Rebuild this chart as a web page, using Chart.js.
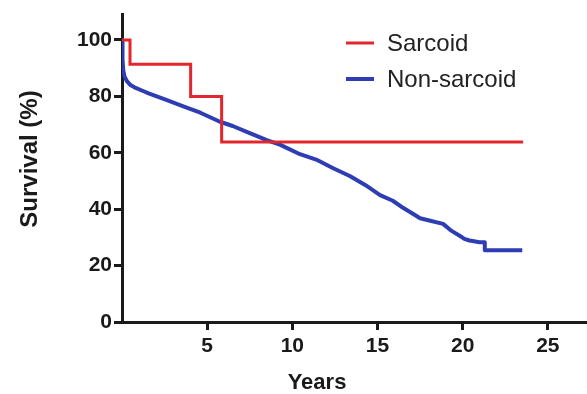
<!DOCTYPE html>
<html>
<head>
<meta charset="utf-8">
<script src="https://cdn.jsdelivr.net/npm/chart.js@4.4.1/dist/chart.umd.min.js"></script>
<style>
  html, body { margin: 0; padding: 0; background: #fff; }
  #wrap { width: 587px; height: 394px; }
</style>
</head>
<body>
<div id="wrap"><canvas id="kmChart" width="587" height="394"></canvas></div>
<script>
/* Kaplan-Meier survival: sarcoid vs non-sarcoid */

const xTicks = [5, 10, 15, 20, 25];
const yTicks = [0, 20, 40, 60, 80, 100];

const sarcoidYears = [0, 0.47, 4.03, 5.85, 23.55];
const sarcoidSurv  = [100, 91.4, 80, 63.8, 63.8];

const nonSarcoidYears = [0, 0.03, 0.08, 0.15, 0.3, 0.5, 0.8, 1.2, 1.6, 2.6, 3.6, 4.6, 5.75, 6.5, 7.5, 8.5, 9.3,
  10.45, 11.4, 12.4, 13.4, 14.3, 15.15, 15.9, 16.5, 17.1, 17.5, 18.1, 18.85, 19.3, 19.85,
  20.1, 20.4, 21.0, 21.3, 21.3, 23.5];
const nonSarcoidSurv = [100, 93, 89, 87, 85.3, 84, 83, 82, 81, 78.8, 76.5, 74.2, 71, 69.5, 67, 64.5, 62.8,
  59.5, 57.6, 54.5, 51.7, 48.5, 45, 43, 40.5, 38.3, 36.8, 35.9, 34.8, 32.5, 30.5,
  29.5, 28.9, 28.3, 28.3, 25.4, 25.4];

const seriesLabels = ['Sarcoid', 'Non-sarcoid'];
const RED = '#e3262b';
const BLUE = '#2e3db3';
const INK = '#1a1a1a';

const toPoints = (xs, ys) => xs.map((x, i) => ({ x, y: ys[i] }));

// legend + axis titles drawn by hand so they sit where the original has them
const overlay = {
  id: 'overlay',
  afterDraw(chart) {
    const { ctx } = chart;
    ctx.save();
    // legend
    const lx = 346, ly = [43, 79];
    chart.data.datasets.forEach((ds, i) => {
      ctx.strokeStyle = ds.borderColor;
      ctx.lineWidth = ds.borderWidth;
      ctx.beginPath();
      ctx.moveTo(lx, ly[i]);
      ctx.lineTo(lx + 28, ly[i]);
      ctx.stroke();
      ctx.fillStyle = '#222';
      ctx.font = '24px "Liberation Sans", Arial, sans-serif';
      ctx.textBaseline = 'middle';
      ctx.textAlign = 'left';
      ctx.fillText(ds.label, lx + 41, ly[i] + 1);
    });
    // axis titles
    ctx.fillStyle = INK;
    ctx.textAlign = 'center';
    ctx.textBaseline = 'middle';
    ctx.font = 'bold 22px "Liberation Sans", Arial, sans-serif';
    ctx.fillText('Years', 317, 383);
    ctx.font = 'bold 24px "Liberation Sans", Arial, sans-serif';
    ctx.translate(30, 159);
    ctx.rotate(-Math.PI / 2);
    ctx.fillText('Survival (%)', 0, 0);
    ctx.restore();
  }
};

const tickFont = { family: '"Liberation Sans", Arial, sans-serif', size: 21, weight: 'bold' };

new Chart(document.getElementById('kmChart').getContext('2d'), {
  type: 'line',
  data: {
    datasets: [
      {
        label: seriesLabels[0],
        data: toPoints(sarcoidYears, sarcoidSurv),
        borderColor: RED,
        borderWidth: 3,
        stepped: true,
        pointRadius: 0,
        fill: false
      },
      {
        label: seriesLabels[1],
        data: toPoints(nonSarcoidYears, nonSarcoidSurv),
        borderColor: BLUE,
        borderWidth: 4,
        borderJoinStyle: 'round',
        tension: 0,
        pointRadius: 0,
        fill: false
      }
    ]
  },
  options: {
    responsive: false,
    animation: false,
    layout: { padding: { top: 12, right: 0, left: 0, bottom: 0 } },
    plugins: { legend: { display: false }, tooltip: { enabled: false } },
    scales: {
      x: {
        type: 'linear',
        min: 0,
        max: 27.3,
        afterBuildTicks: s => { s.ticks = xTicks.map(v => ({ value: v })); },
        afterFit: s => { s.height = 72; },
        border: { display: true, color: INK, width: 3 },
        grid: { display: true, drawOnChartArea: false, drawTicks: true, tickLength: 8, lineWidth: 3, color: INK },
        ticks: { color: INK, font: tickFont, padding: 4, maxRotation: 0 }
      },
      y: {
        min: 0,
        max: 109,
        afterBuildTicks: s => { s.ticks = yTicks.map(v => ({ value: v })); },
        afterFit: s => { s.width = 122; },
        border: { display: true, color: INK, width: 3 },
        grid: { display: true, drawOnChartArea: false, drawTicks: true, tickLength: 8, lineWidth: 3, color: INK },
        ticks: { color: INK, font: tickFont, padding: 2 }
      }
    }
  },
  plugins: [overlay]
});
</script>
</body>
</html>
